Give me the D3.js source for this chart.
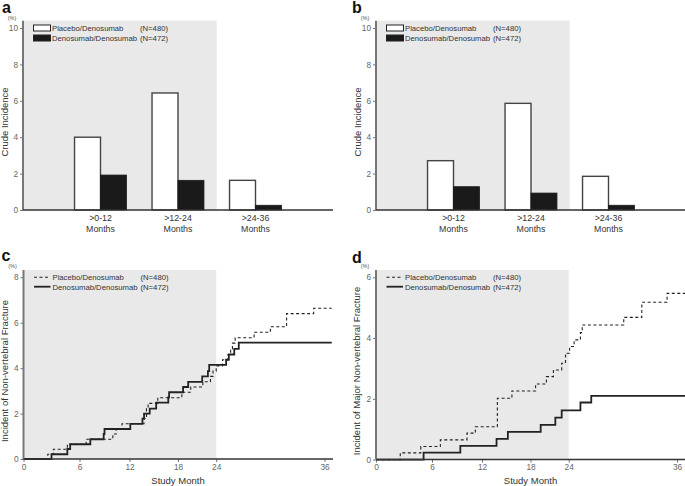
<!DOCTYPE html>
<html>
<head>
<meta charset="utf-8">
<script src="https://cdn.jsdelivr.net/npm/d3@7"></script>
<style>
  html, body { margin: 0; padding: 0; background: #fff; }
  svg { display: block; font-family: "Liberation Sans", Arial, Helvetica, sans-serif; }
</style>
</head>
<body>
<svg id="chart" width="685" height="486"></svg>
<script>
// ---------------- DATA ----------------
const seriesNames = ["Placebo/Denosumab", "Denosumab/Denosumab"];
const seriesN = ["(N=480)", "(N=472)"];
const periodLine1 = [">0-12", ">12-24", ">24-36"];
const periodLine2 = ["Months", "Months", "Months"];

// Panel a: crude incidence (%) of non-vertebral fracture
const aPlacebo = [4.0, 6.43, 1.63];
const aDenos   = [1.92, 1.63, 0.26];
// Panel b: crude incidence (%) of major non-vertebral fracture
const bPlacebo = [2.71, 5.86, 1.85];
const bDenos   = [1.28, 0.93, 0.26];

const barTicks = [0, 2, 4, 6, 8, 10];
const monthTicks = [0, 6, 12, 18, 24, 36];
const cTicks = [0, 2, 4, 6, 8];
const dTicks = [0, 2, 4, 6];

// Panel c: cumulative incidence of non-vertebral fracture (month, %)
const cPlacebo = [[0,0],[2.6,0.21],[3.2,0.43],[4.7,0.65],[6.8,0.87],[10.0,1.1],[10.4,1.32],[11.1,1.55],
  [13.8,1.78],[14.1,2.22],[14.3,2.45],[15.5,2.7],[18.6,2.94],[20.0,3.17],[21.9,3.4],[23.1,3.64],
  [23.5,3.87],[24.0,4.1],[24.7,4.37],[25.3,4.6],[25.6,4.85],[25.8,5.1],[26.1,5.34],[28.2,5.58],
  [30.0,5.82],[31.8,6.4],[34.8,6.64],[36.8,6.64]];
const cDenos = [[0,0],[3.0,0.21],[4.7,0.44],[5.0,0.65],[7.3,0.87],[8.9,1.1],[9.0,1.32],[12.1,1.55],
  [13.6,1.78],[13.8,2.0],[14.5,2.22],[15.3,2.48],[16.8,2.71],[16.9,2.94],[18.8,3.17],[19.6,3.4],
  [21.8,3.64],[22.7,3.87],[22.9,4.14],[25.1,4.37],[25.4,4.6],[26.0,4.85],[26.5,5.12],[36.8,5.12]];

// Panel d: cumulative incidence of major non-vertebral fracture (month, %)
const dPlacebo = [[0,0],[2.6,0.22],[4.8,0.43],[7.0,0.65],[10.2,0.87],[11.2,1.08],[13.9,2.02],[15.7,2.26],
  [18.8,2.49],[20.5,2.73],[21.6,2.95],[22.9,3.17],[23.5,3.5],[24.1,3.72],[24.6,3.94],[25.3,4.18],
  [25.5,4.43],[30.1,4.68],[32.1,5.18],[34.9,5.47],[36.9,5.47]];
const dDenos = [[0,0],[5.1,0.23],[9.4,0.45],[13.8,0.68],[15.2,0.91],[19.6,1.14],[21.9,1.38],
  [22.9,1.62],[25.3,1.88],[26.5,2.1],[36.9,2.1]];

// ---------------- LAYOUT ----------------
const svg = d3.select("#chart");
const SHADE = "#e9e9e9";
const TICKCOL = "#666";
const TXT = "#333";
const intFmt = d3.format("d");
const monthOffsets = [0, 56, 106, 154.5, 192.7, 301]; // uneven axis spacing as in original

function panelLetter(x, y, t) {
  svg.append("text").attr("x", x).attr("y", y).text(t)
    .attr("font-size", 16).attr("font-weight", "bold").attr("fill", "#111");
}

function yTitle(x, y, t) {
  svg.append("text").attr("transform", `translate(${x},${y}) rotate(-90)`)
    .attr("text-anchor", "middle").attr("font-size", 9.5).attr("fill", TXT).text(t);
}

function percentLabel(x, y) {
  svg.append("text").attr("x", x).attr("y", y).attr("text-anchor", "middle")
    .attr("font-size", 5.5).attr("fill", "#555").text("(%)");
}

function yAxis(g, y, ticks, x0, topY) {
  const ax = g.append("g").attr("transform", `translate(${x0},0)`)
    .call(d3.axisLeft(y).tickValues(ticks).tickFormat(intFmt).tickSize(3).tickPadding(2));
  ax.select(".domain").remove();
  ax.selectAll(".tick line").attr("stroke", "#777");
  ax.selectAll(".tick text").attr("font-size", 8.3).attr("fill", TICKCOL)
    .attr("font-family", "Liberation Sans, Arial, sans-serif");
  g.append("line").attr("x1", x0).attr("x2", x0).attr("y1", topY).attr("y2", y(0))
    .attr("stroke", "#777").attr("stroke-width", 2);
}

function barLegend(g, x0, y1) {
  const fills = ["#fff", "#1a1a1a"];
  [0, 1].forEach(i => {
    const yy = y1 + i * 10;
    g.append("rect").attr("x", x0 + 10.5).attr("y", yy - 3).attr("width", 17).attr("height", 6)
      .attr("fill", fills[i]).attr("stroke", "#222").attr("stroke-width", 1);
    g.append("text").attr("x", x0 + 29).attr("y", yy + 2.8).attr("font-size", 7.7)
      .attr("fill", TXT).text(seriesNames[i]);
    g.append("text").attr("x", x0 + 117).attr("y", yy + 2.8).attr("font-size", 7.7)
      .attr("fill", TXT).text(seriesN[i]);
  });
}

function lineLegend(g, x0, y1) {
  [0, 1].forEach(i => {
    const yy = y1 + i * 9.4;
    g.append("line").attr("x1", x0 + 10.5).attr("x2", x0 + 27).attr("y1", yy).attr("y2", yy)
      .attr("stroke", "#222").attr("stroke-width", i === 0 ? 1.1 : 1.8)
      .attr("stroke-dasharray", i === 0 ? "3,2.5" : null);
    g.append("text").attr("x", x0 + 29).attr("y", yy + 2.8).attr("font-size", 7.7)
      .attr("fill", TXT).text(seriesNames[i]);
    g.append("text").attr("x", x0 + 117).attr("y", yy + 2.8).attr("font-size", 7.7)
      .attr("fill", TXT).text(seriesN[i]);
  });
}

function barPanel(x0, placebo, denos, letter, letterX, title, titleX) {
  const g = svg.append("g");
  const x = d3.scaleLinear().domain([0, 4]).range([x0, x0 + 310]);
  const y = d3.scaleLinear().domain([0, 10]).range([210, 28]);
  const bw = 0.335;
  g.append("rect").attr("x", x(0)).attr("y", 20.7).attr("width", x(2.5) - x(0))
    .attr("height", y(0) - 20.7).attr("fill", SHADE);
  const idx = d3.range(periodLine1.length);
  g.selectAll(".pb").data(idx).join("rect")
    .attr("x", i => x(i + 1 - bw)).attr("y", i => y(placebo[i]))
    .attr("width", x(bw) - x(0)).attr("height", i => y(0) - y(placebo[i]))
    .attr("fill", "#fff").attr("stroke", "#444").attr("stroke-width", 1.4);
  g.selectAll(".db").data(idx).join("rect")
    .attr("x", i => x(i + 1)).attr("y", i => y(denos[i]))
    .attr("width", x(bw) - x(0)).attr("height", i => y(0) - y(denos[i]))
    .attr("fill", "#1a1a1a").attr("stroke", "#1a1a1a").attr("stroke-width", 0.8);
  yAxis(g, y, barTicks, x0, 20.7);
  g.append("line").attr("x1", x0).attr("x2", x0 + 310).attr("y1", y(0)).attr("y2", y(0))
    .attr("stroke", "#333").attr("stroke-width", 1.5);
  idx.forEach(i => {
    g.append("text").attr("x", x(i + 1)).attr("y", 220.5).attr("text-anchor", "middle")
      .attr("font-size", 8.8).attr("fill", TXT).text(periodLine1[i]);
    g.append("text").attr("x", x(i + 1)).attr("y", 231.5).attr("text-anchor", "middle")
      .attr("font-size", 8.8).attr("fill", TXT).text(periodLine2[i]);
  });
  barLegend(g, x0, 28);
  percentLabel(x0 - 11, 19.5);
  panelLetter(letterX, 13, letter);
  yTitle(titleX, 122, title);
}

function linePanel(x0, ymax, ticks, y0px, placebo, denos, letter, letterX, letterY, title, titleX) {
  const g = svg.append("g");
  const x = d3.scaleLinear().domain(monthTicks).range(monthOffsets.map(o => x0 + o));
  const y = d3.scaleLinear().domain([0, ymax]).range([y0px, 277.3]);
  g.append("rect").attr("x", x(0)).attr("y", 270).attr("width", x(24) - x(0))
    .attr("height", y(0) - 270).attr("fill", SHADE);
  const line = d3.line().x(d => x(d[0])).y(d => y(d[1])).curve(d3.curveStepAfter);
  g.append("path").datum(placebo).attr("d", line).attr("fill", "none")
    .attr("stroke", "#222").attr("stroke-width", 1.1).attr("stroke-dasharray", "3,2.5");
  g.append("path").datum(denos).attr("d", line).attr("fill", "none")
    .attr("stroke", "#222").attr("stroke-width", 1.8);
  yAxis(g, y, ticks, x0, 270);
  const xa = g.append("g").attr("transform", `translate(0,${y(0)})`)
    .call(d3.axisBottom(x).tickValues(monthTicks).tickFormat(intFmt).tickSize(3).tickPadding(2));
  xa.select(".domain").remove();
  xa.selectAll(".tick line").attr("stroke", "#777");
  xa.selectAll(".tick text").attr("font-size", 8.3).attr("fill", TICKCOL)
    .attr("font-family", "Liberation Sans, Arial, sans-serif");
  g.append("line").attr("x1", x0).attr("x2", x0 + 309.5).attr("y1", y(0)).attr("y2", y(0))
    .attr("stroke", "#333").attr("stroke-width", 1.5);
  g.append("text").attr("x", x(12) + 48.5).attr("y", 484).attr("text-anchor", "middle")
    .attr("font-size", 9.5).attr("fill", TXT).text("Study Month");
  lineLegend(g, x0, 277.3);
  percentLabel(x0 - 11, 267.8);
  panelLetter(letterX, letterY, letter);
  yTitle(titleX, 371, title);
}

barPanel(23, aPlacebo, aDenos, "a", 2, "Crude Incidence", 8);
barPanel(376, bPlacebo, bDenos, "b", 352, "Crude Incidence", 360.5);
linePanel(23.5, 8, cTicks, 459, cPlacebo, cDenos, "c", 1.5, 261, "Incident of Non-vertebral Fracture", 8);
linePanel(376, 6, dTicks, 459.6, dPlacebo, dDenos, "d", 352, 263, "Incident of Major Non-vertebral Fracture", 359.5);
</script>
</body>
</html>
